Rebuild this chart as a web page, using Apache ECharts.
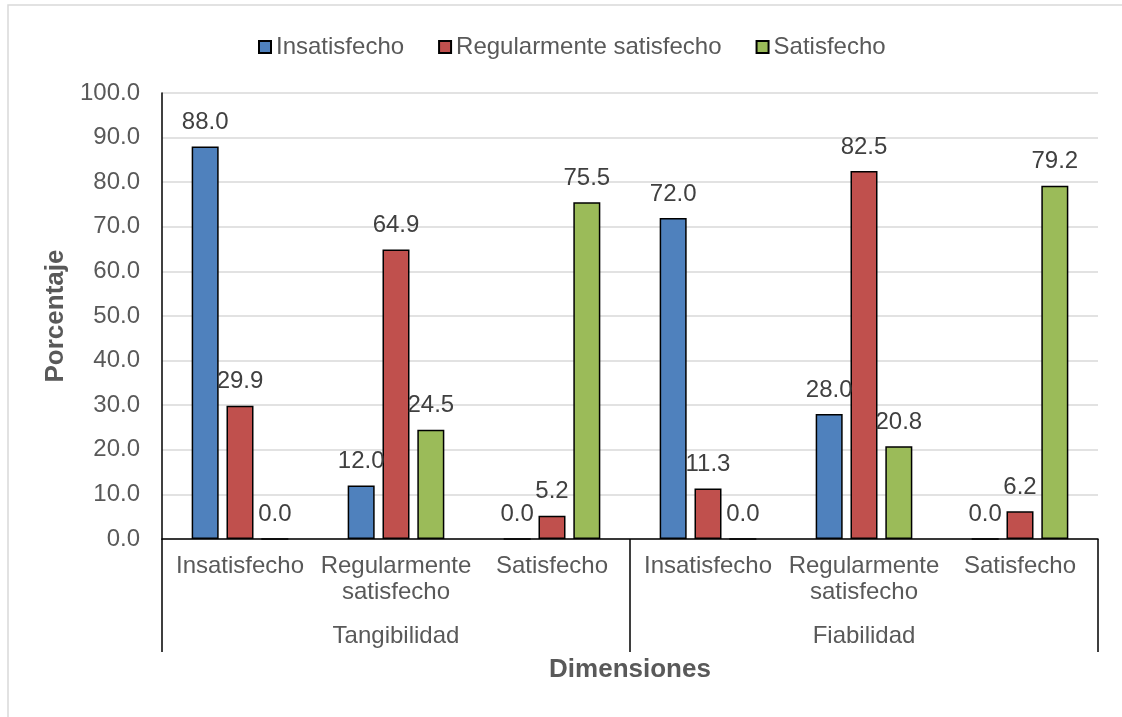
<!DOCTYPE html>
<html>
<head>
<meta charset="utf-8">
<script src="https://cdn.jsdelivr.net/npm/echarts@6/dist/echarts.min.js"></script>
<style>
  html, body { margin: 0; padding: 0; background: #fff; overflow: hidden; }
  #chart { width: 1122px; height: 717px; }
</style>
</head>
<body>
<div id="chart"></div>
<script>
// Satisfaction level per dimension (percent)
const levels = ['Insatisfecho', 'Regularmente\nsatisfecho', 'Satisfecho',
                'Insatisfecho', 'Regularmente\nsatisfecho', 'Satisfecho'];
const dimensions = ['Tangibilidad', 'Fiabilidad'];
const seriesNames = ['Insatisfecho', 'Regularmente satisfecho', 'Satisfecho'];
const insatisfecho = [88.0, 12.0, 0.0, 72.0, 28.0, 0.0];
const regular = [29.9, 64.9, 5.2, 11.3, 82.5, 6.2];
const satisfecho = [0.0, 24.5, 75.5, 0.0, 20.8, 79.2];
const yTicks = { min: 0, max: 100, interval: 10 };

const FONT = '"Liberation Sans", Arial, sans-serif';
const FS = 24;
const AXIS_GRAY = '#595959';
const LABEL_GRAY = '#404040';
const colors = ['#4F81BD', '#C0504D', '#9BBB59'];

function barSeries(name, values, color) {
  return {
    name: name,
    type: 'bar',
    xAxisIndex: 0,
    data: values,
    barWidth: 27,
    barGap: '29%',
    itemStyle: { color: color, borderColor: '#000', borderWidth: 1.5 },
    label: {
      show: true,
      position: 'top',
      distance: 12,
      fontFamily: FONT,
      fontSize: FS,
      color: LABEL_GRAY,
      formatter: p => p.value.toFixed(1)
    }
  };
}

const chart = echarts.init(document.getElementById('chart'), null, { renderer: 'canvas' });
chart.setOption({
  animation: false,
  backgroundColor: '#fff',
  textStyle: { fontFamily: FONT },
  graphic: [{
    // chart-area frame (top and left edges inside the page)
    type: 'polyline',
    shape: { points: [[8, 717], [8, 5], [1122, 5]] },
    style: { fill: null, stroke: '#D9D9D9', lineWidth: 1.5 },
    silent: true,
    z: -10
  }],
  legend: {
    left: 253,
    top: 30,
    padding: 5,
    itemWidth: 12,
    itemHeight: 12,
    itemGap: 34,
    icon: 'rect',
    itemStyle: { borderColor: '#000', borderWidth: 2 },
    textStyle: { fontFamily: FONT, fontSize: FS, color: AXIS_GRAY, lineHeight: 24 },
    data: seriesNames
  },
  grid: { left: 162, right: 24, top: 93, bottom: 178, containLabel: false },
  xAxis: [{
    type: 'category',
    position: 'bottom',
    data: levels,
    axisLine: { show: true, lineStyle: { color: '#000', width: 1.5 } },
    axisTick: { show: false },
    axisLabel: {
      interval: 0,
      margin: 14,
      fontFamily: FONT,
      fontSize: FS,
      lineHeight: 26,
      color: AXIS_GRAY
    },
    name: 'Dimensiones',
    nameLocation: 'middle',
    nameGap: 118,
    nameTextStyle: { fontFamily: FONT, fontSize: 26, fontWeight: 'bold', color: AXIS_GRAY }
  }, {
    type: 'category',
    position: 'bottom',
    data: dimensions,
    axisLine: { show: false },
    axisTick: { show: true, length: 113, interval: 0, lineStyle: { color: '#000', width: 1.5 } },
    axisLabel: {
      interval: 0,
      margin: 84,
      fontFamily: FONT,
      fontSize: FS,
      lineHeight: 26,
      color: AXIS_GRAY
    },
    splitLine: { show: false }
  }],
  yAxis: {
    type: 'value',
    min: yTicks.min,
    max: yTicks.max,
    interval: yTicks.interval,
    axisLine: { show: true, lineStyle: { color: '#000', width: 1.5 } },
    axisTick: { show: false },
    axisLabel: {
      margin: 22,
      fontFamily: FONT,
      fontSize: FS,
      color: AXIS_GRAY,
      formatter: v => v.toFixed(1)
    },
    splitLine: { show: true, lineStyle: { color: '#D9D9D9', width: 1.5 } },
    name: 'Porcentaje',
    nameLocation: 'middle',
    nameRotate: 90,
    nameGap: 90,
    nameTextStyle: { fontFamily: FONT, fontSize: 26, fontWeight: 'bold', color: AXIS_GRAY }
  },
  series: [
    barSeries(seriesNames[0], insatisfecho, colors[0]),
    barSeries(seriesNames[1], regular, colors[1]),
    barSeries(seriesNames[2], satisfecho, colors[2])
  ]
});
</script>
</body>
</html>
